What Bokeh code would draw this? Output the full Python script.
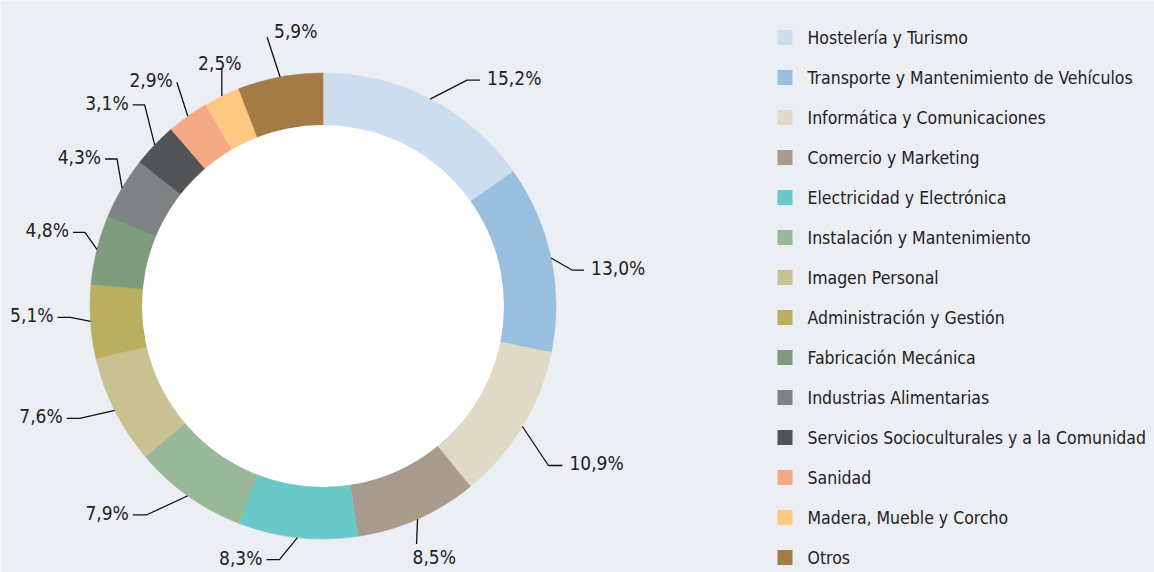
import math
from bokeh.plotting import figure
from bokeh.models import Range1d, ColumnDataSource
from bokeh.embed import file_html
from bokeh.resources import INLINE
from bokeh.core.properties import value

# ---------------- data ----------------
categories = [
    "Hostelería y Turismo",
    "Transporte y Mantenimiento de Vehículos",
    "Informática y Comunicaciones",
    "Comercio y Marketing",
    "Electricidad y Electrónica",
    "Instalación y Mantenimiento",
    "Imagen Personal",
    "Administración y Gestión",
    "Fabricación Mecánica",
    "Industrias Alimentarias",
    "Servicios Socioculturales y a la Comunidad",
    "Sanidad",
    "Madera, Mueble y Corcho",
    "Otros",
]
shares = [15.2, 13.0, 10.9, 8.5, 8.3, 7.9, 7.6, 5.1, 4.8, 4.3, 3.1, 2.9, 2.5, 5.9]
colors = [
    "#CCDDEF", "#99BFDF", "#DEDAC5", "#A89A8C", "#6AC8C7", "#99B899", "#C9C192",
    "#B8AF60", "#7E9B7E", "#7F8283", "#515354", "#F6A985", "#FDC982", "#A57B45",
]
pct_labels = [("%.1f" % v).replace(".", ",") + "%" for v in shares]

# ---------------- layout / style ----------------
W, H = 1154, 572
BG = "#EBEEF3"
FONT = "DejaVu Sans Condensed"
TXT = "#222222"
CX, CY = 322.5, H - 305.5   # ring centre (data units = px, y up)
R_OUT, R_IN = 233, 181
# leader line: elbow offset from the ring edge point (dx, dy), tail length,
# text placement, extra text raise
leader = [
    (37, 19, 13, "right", 0), (21, -12, 12, "right", 0), (26, -39, 14, "right", 0),
    (-1, -25, 0, "below", 0), (-18, -22, -13, "left", 0), (-41, -19, -14, "left", 0),
    (-35, -8, -13, "left", 0), (-20, 4, -13, "left", 0), (-12, 17, -12, "left", 0),
    (-5, 29, -12, "left", 0), (-10, 40, -12, "left", 0), (-11, 34, 0, "left", 0),
    (0, 28, 0, "above", 0), (-13, 40, 0, "right", 4),
]

p = figure(width=W, height=H, output_backend="svg", toolbar_location=None,
           x_range=Range1d(0, W), y_range=Range1d(0, H),
           min_border=0, background_fill_color=BG, border_fill_color=BG,
           outline_line_color=None)
p.axis.visible = False
p.grid.visible = False

total = sum(shares)
starts, ends, mids = [], [], []
acc = 0.0
for v in shares:
    f0 = acc / total
    acc += v
    f1 = acc / total
    starts.append(math.pi / 2 - 2 * math.pi * f0)
    ends.append(math.pi / 2 - 2 * math.pi * f1)
    mids.append(2 * math.pi * (f0 + f1) / 2)

src = ColumnDataSource(dict(start=starts, end=ends, color=colors))
p.wedge(x=CX, y=CY, radius=R_OUT, start_angle="start", end_angle="end",
        direction="clock", fill_color="color", line_color="color",
        line_width=0.6, source=src)
p.circle(x=CX, y=CY, radius=R_IN, fill_color="white", line_color=None)

# leader lines and labels
xs, ys = [], []
groups = {"right": ([], [], []), "left": ([], [], []), "below": ([], [], []), "above": ([], [], [])}
for m, lab, (dx, dy, tail, side, raise_) in zip(mids, pct_labels, leader):
    sx = CX + R_OUT * math.sin(m)
    sy = CY + R_OUT * math.cos(m)
    ex, ey = sx + dx, sy + dy
    tx = ex + tail
    xs.append([sx, ex, tx])
    ys.append([sy, ey, ey])
    g = groups[side]
    if side == "right":
        g[0].append(tx + 7); g[1].append(ey + 2 + raise_)
    elif side == "left":
        g[0].append(tx - 4); g[1].append(ey + 2 + raise_)
    elif side == "below":
        g[0].append(tx - 4); g[1].append(ey - 2)
    else:
        g[0].append(tx - 2); g[1].append(ey + 5)
    g[2].append(lab)

p.multi_line(xs=xs, ys=ys, line_color="#111111", line_width=1.3)

align = {"right": ("left", "alphabetic"), "left": ("right", "alphabetic"),
         "below": ("left", "top"), "above": ("center", "alphabetic")}
for side, (gx, gy, gt) in groups.items():
    if not gx:
        continue
    a, b = align[side]
    p.text(x=gx, y=gy, text=gt, text_align=a, text_baseline=b,
           text_font=value(FONT), text_font_size="19px", text_color=TXT)

# legend
LX_SQ, LX_TXT, LY0, LDY = 784.5, 807, H - 37, 40
ly = [LY0 - LDY * i for i in range(len(categories))]
p.rect(x=[LX_SQ] * len(categories), y=ly, width=15, height=15,
       fill_color=colors, line_color=None)
p.text(x=[LX_TXT] * len(categories), y=ly, text=categories,
       text_align="left", text_baseline="middle",
       text_font=value(FONT), text_font_size="17.5px", text_color=TXT)

html = file_html(p, INLINE)
html = html.replace("<body>", '<body style="background-color:%s">' % BG, 1)
open("out.html", "w").write(html)
